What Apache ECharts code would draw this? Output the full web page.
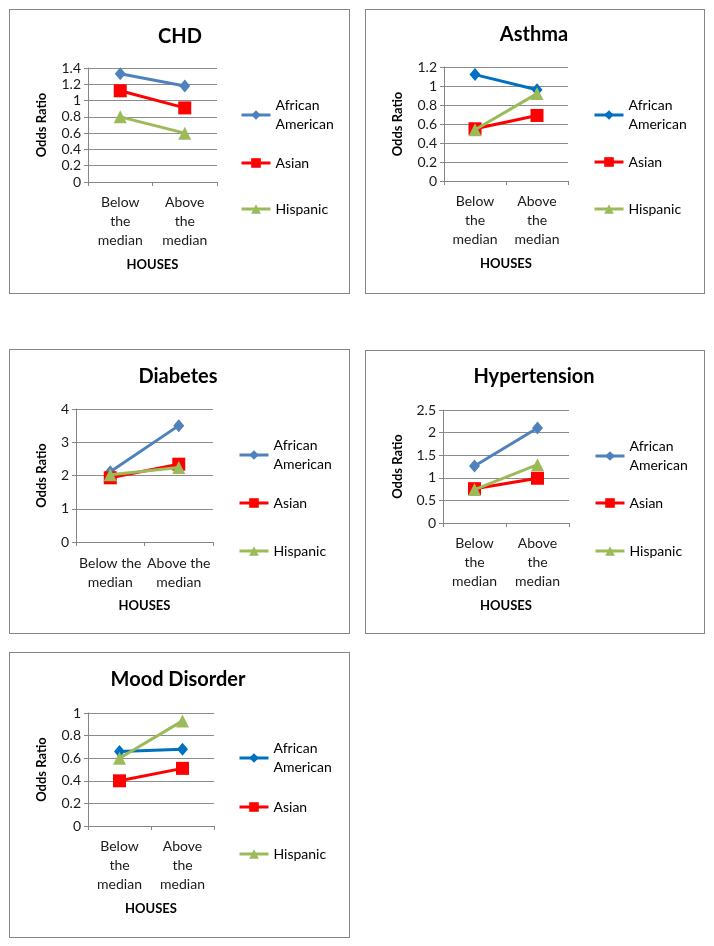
<!DOCTYPE html>
<html><head><meta charset="utf-8">
<script src="https://cdn.jsdelivr.net/npm/echarts@6/dist/echarts.min.js"></script>
<style>
html,body{margin:0;padding:0;background:#fff;width:714px;height:946px;overflow:hidden}
.p{position:absolute;outline:1px solid #858585;background:#fff}
</style></head><body>
<div id="p1" class="p" style="left:10px;top:10px;width:339px;height:283px"></div>
<div id="p2" class="p" style="left:366px;top:10px;width:338px;height:283px"></div>
<div id="p3" class="p" style="left:10px;top:350px;width:339px;height:283px"></div>
<div id="p4" class="p" style="left:366px;top:351px;width:338px;height:282px"></div>
<div id="p5" class="p" style="left:10px;top:653px;width:339px;height:284px"></div>
<script>
// ---- data ----
const categories = ['Below the median', 'Above the median'];
const labelsStacked = ['Below\nthe\nmedian', 'Above\nthe\nmedian'];
const labelsTwoLine = ['Below the\nmedian', 'Above the\nmedian'];
const seriesNames = ['African American', 'Asian', 'Hispanic'];
const xAxisName = 'HOUSES';
const yAxisName = 'Odds Ratio';

const chdAA = [1.33, 1.18];
const chdAsian = [1.12, 0.91];
const chdHispanic = [0.80, 0.60];

const asthmaAA = [1.12, 0.96];
const asthmaAsian = [0.55, 0.69];
const asthmaHispanic = [0.54, 0.92];

const diabetesAA = [2.11, 3.50];
const diabetesAsian = [1.93, 2.34];
const diabetesHispanic = [2.02, 2.24];

const hyperAA = [1.26, 2.10];
const hyperAsian = [0.76, 0.99];
const hyperHispanic = [0.74, 1.29];

const moodAA = [0.66, 0.68];
const moodAsian = [0.40, 0.51];
const moodHispanic = [0.60, 0.93];

// y axis ranges [max, interval]
const chdY = [1.4, 0.2];
const asthmaY = [1.2, 0.2];
const diabetesY = [4, 1];
const hyperY = [2.5, 0.5];
const moodY = [1, 0.2];

// ---- styling ----
const FONT = 'Lato, "Liberation Sans", sans-serif';
const BLUE1 = '#4F81BD', BLUE2 = '#0070C0', RED = '#FF0000', GREEN = '#9BBB59';

const panels = [
  {id:'p1', title:'CHD', d:[chdAA, chdAsian, chdHispanic], y:chdY, aa:BLUE1, labels:labelsStacked,
   grid:{left:78, top:58, width:129, height:114}, tx:170, ty:27, lx:230, ly:[105,153,199]},
  {id:'p2', title:'Asthma', d:[asthmaAA, asthmaAsian, asthmaHispanic], y:asthmaY, aa:BLUE2, labels:labelsStacked,
   grid:{left:78, top:57, width:124, height:114}, tx:168, ty:25, lx:227, ly:[105,152,199]},
  {id:'p3', title:'Diabetes', d:[diabetesAA, diabetesAsian, diabetesHispanic], y:diabetesY, aa:BLUE1, labels:labelsTwoLine,
   grid:{left:66, top:59, width:137, height:133}, tx:168, ty:27, lx:228, ly:[105,153,201]},
  {id:'p4', title:'Hypertension', d:[hyperAA, hyperAsian, hyperHispanic], y:hyperY, aa:BLUE1, labels:labelsStacked,
   grid:{left:77, top:59, width:126, height:113}, tx:168, ty:26, lx:228, ly:[105,152,200]},
  {id:'p5', title:'Mood Disorder', d:[moodAA, moodAsian, moodHispanic], y:moodY, aa:BLUE2, labels:labelsStacked,
   grid:{left:78, top:60, width:126, height:113}, tx:168, ty:27, lx:228, ly:[105,154,201]}
];

panels.forEach(p => {
  const chart = echarts.init(document.getElementById(p.id), null, {renderer:'canvas'});
  const colors = [p.aa, RED, GREEN];
  const symbols = ['diamond', 'rect', 'triangle'];
  const sizes = [[11, 13], 13, 13];
  const labelFirstCenter = p.labels === labelsTwoLine ? 21 : 20;
  const legends = seriesNames.map((n, i) => ({
    data: [n], orient: 'vertical', left: p.lx,
    top: p.ly[i] - (i === 0 ? 28.5 : 9.5),
    padding: 0, itemWidth: 29, itemHeight: 12, itemGap: 0, selectedMode: false,
    lineStyle: {width: 3},
    formatter: i === 0 ? 'African\nAmerican' : n,
    textStyle: {fontFamily: FONT, fontSize: 14, lineHeight: 19, color: '#000', padding: i === 0 ? [19,0,0,0] : 0}
  }));
  chart.setOption({
    animation: false,
    textStyle: {fontFamily: FONT},
    title: {text: p.title, left: p.tx, textAlign: 'center', top: p.ty - 12, padding: 0,
      textStyle: {fontFamily: FONT, fontSize: 20, fontWeight: 'bold', color: '#000', lineHeight: 24}},
    legend: legends,
    grid: p.grid,
    xAxis: {
      type: 'category', data: categories,
      name: xAxisName, nameLocation: 'middle', nameGap: (p.labels === labelsTwoLine ? 57 : 76),
      nameTextStyle: {fontFamily: FONT, fontSize: 13, fontWeight: 'bold', color: '#000'},
      axisLine: {lineStyle: {color: '#868686', width: 1}},
      axisTick: {show: true, length: 4, lineStyle: {color: '#868686'}},
      axisLabel: {interval: 0, fontFamily: FONT, fontSize: 14, lineHeight: 19, color: '#1a1a1a',
        margin: labelFirstCenter - 9.5,
        formatter: (v, idx) => p.labels[idx]}
    },
    yAxis: {
      type: 'value', min: 0, max: p.y[0], interval: p.y[1],
      name: yAxisName, nameLocation: 'middle', nameRotate: 90,
      nameGap: p.grid.left - 30 - 8,
      nameTextStyle: {fontFamily: FONT, fontSize: 13, fontWeight: 'bold', color: '#000'},
      axisLine: {show: true, lineStyle: {color: '#868686', width: 1}},
      axisTick: {show: true, length: 4, lineStyle: {color: '#868686'}},
      splitLine: {lineStyle: {color: '#8c8c8c', width: 1}},
      axisLabel: {fontFamily: FONT, fontSize: 14, color: '#1a1a1a', margin: 7}
    },
    series: seriesNames.map((n, i) => ({
      name: n, type: 'line', data: p.d[i],
      symbol: symbols[i], symbolSize: sizes[i], showSymbol: true,
      lineStyle: {width: 3, color: colors[i]},
      itemStyle: {color: colors[i]},
      z: 2 + i
    }))
  });
});
</script>
</body></html>
